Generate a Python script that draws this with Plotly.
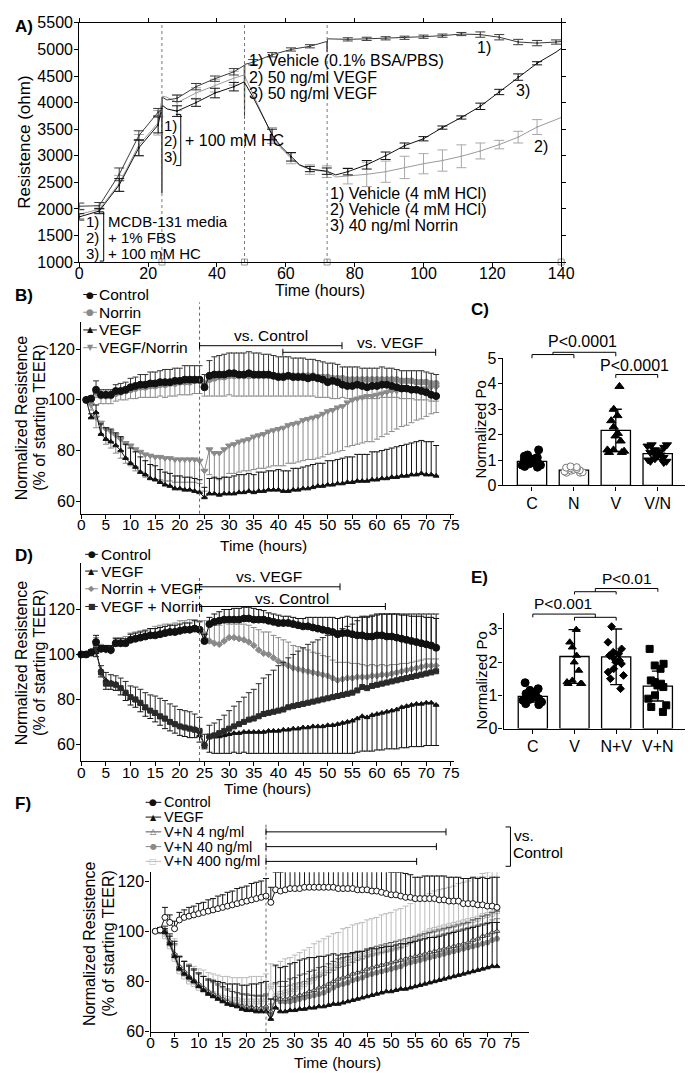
import plotly.graph_objects as go

W, H = 693, 1073
FONT = "Liberation Sans, Arial, Helvetica, sans-serif"
SYMF = "DejaVu Sans, Liberation Sans, sans-serif"

# ---------------- Panel A data ----------------
A_EVENTS = [24, 48, 72, 140]
A1_TIME = [0, 5.8, 11.6, 17.3, 22.9, 23.9, 24.0, 24.1, 25.5, 28.4, 33.9, 39.4, 44.9, 47.9, 48.0, 48.1,
           50.5, 56, 61.5, 67, 71.9, 72.0, 72.1, 78, 83.5, 89, 94.5, 100, 105.5, 111, 116.5, 122,
           127.5, 133, 138.5, 140]
A1_VAL = [2050, 2060, 2650, 3380, 3820, 3870, 2300, 4100, 4050, 4080, 4300, 4450, 4580, 4700, 3700, 4720,
          4760, 4900, 5000, 5060, 5150, 4950, 5200, 5190, 5200, 5210, 5220, 5240, 5260, 5290, 5280, 5230,
          5140, 5120, 5140, 5150]
A1_SD = [60, 60, 120, 90, 70, 0, 0, 0, 0, 60, 60, 50, 60, 0, 0, 0,
         50, 40, 30, 30, 0, 0, 0, 30, 30, 30, 30, 30, 30, 30, 50, 50,
         50, 50, 40, 0]
A23_TIME = [0, 5.8, 11.6, 17.3, 22.9, 24.1, 25.5, 28.4, 33.9, 39.4, 44.9, 47.9, 50.5, 53, 56, 58.5, 61.5,
            64, 67, 71.9, 74.5, 78, 83.5, 89, 94.5, 100, 105.5, 111, 116.5, 122, 127.5, 133, 138.5, 140]
A2_VAL = [1900, 1990, 2480, 3200, 3620, 4120, 4100, 4000, 4180, 4320, 4460, 4520, 4150, 3800, 3380, 3150,
          2950, 2820, 2740, 2700, 2600, 2620, 2650, 2700, 2780, 2850, 2910, 2990, 3090, 3210, 3350, 3540,
          3680, 3720]
A2_SD = [80, 70, 150, 200, 230, 0, 0, 150, 100, 120, 130, 0, 0, 0, 150, 0, 100, 0, 90, 110, 0,
         150, 230, 200, 210, 190, 200, 215, 150, 80, 110, 140, 0, 0]
A3_VAL = [1850, 1960, 2450, 3150, 3580, 3950, 3880, 3840, 4000, 4180, 4300, 4390, 4100, 3780, 3400, 3180,
          2980, 2830, 2750, 2710, 2640, 2700, 2830, 3000, 3190, 3320, 3530, 3720, 3930, 4200, 4480, 4740,
          4950, 5020]
A3_SD = [60, 50, 120, 150, 150, 0, 0, 100, 70, 90, 80, 0, 0, 0, 100, 0, 80, 0, 50, 60, 0,
         60, 80, 70, 50, 40, 30, 30, 60, 50, 60, 30, 0, 0]

# ---------------- Panel B data (hours 1..72) ----------------
HOURS_B = list(range(1, 73))
B_CONTROL = [100, 100.5, 104, 102, 102, 102, 103.5, 103.5, 104, 105, 105.5, 106,
             106, 106.5, 106.5, 107, 107, 107, 107.5, 107.5, 108, 108, 108, 108,
             105, 109.5, 110, 110, 110, 110.5, 110.5, 110, 110, 110.5, 110, 110,
             110, 110, 109.5, 109, 109, 109.5, 109, 109, 109, 108.5, 109, 108.5,
             108, 107, 107.5, 107, 106, 105.5, 105.5, 106, 105.5, 105, 105.5, 105.5,
             106, 106, 105.5, 105, 104.5, 104.5, 104, 104, 103.5, 103, 102, 101.5]
B_CONTROL_UP = [0.5, 1, 3.5, 2, 2, 2, 2.5, 3, 3, 3.5, 3.5, 4,
                4, 4.5, 4.5, 4.5, 5, 5, 5, 5, 5.5, 5.5, 5.5, 5.5,
                5, 6, 7, 7.5, 8, 8, 8, 8.5, 8.5, 8.5, 8.5, 8.5,
                8, 8, 8, 8, 8, 7.5, 7.5, 7.5, 7.5, 7.5, 7, 7,
                7, 7.5, 7, 7, 7, 7.5, 7.5, 7, 7, 7.5, 7, 7,
                7, 6.5, 7, 7, 7, 7, 7.5, 7.5, 8, 8, 8.5, 8.5]
B_NORRIN = [100, 100, 103, 101.5, 101.5, 101.5, 102.5, 103, 103.5, 104, 104.5, 105,
            105, 105.5, 105.5, 106, 106, 106.5, 106.5, 107, 107, 107, 107.5, 107.5,
            106.5, 108, 108.5, 109, 109, 109.5, 109.5, 109.5, 109.5, 109.5, 109.5, 109.5,
            109.5, 109.5, 109.5, 109.5, 109.5, 109.5, 109.5, 109.5, 109.5, 109.5, 109.5, 109,
            109, 109, 108.5, 108.5, 108.5, 108, 108, 108, 108, 108, 108, 108,
            108, 108, 108, 108, 107.5, 107.5, 107.5, 107, 107, 107, 106.5, 106.5]
B_NORRIN_DN = [0.5, 1, 2, 3, 3, 3, 3, 3, 3.5, 3.5, 4, 4,
               4, 4.5, 4.5, 4.5, 5, 5, 5, 5, 5, 5, 5, 5,
               5, 6.5, 7, 7.5, 7.5, 7.5, 8, 8, 8, 8, 8, 8,
               8, 8, 8, 8, 8, 8, 8, 8, 8, 8, 8, 8,
               8, 8, 8, 8, 7.5, 7.5, 7.5, 7.5, 7.5, 7.5, 7.5, 7.5,
               7, 7, 7, 7, 7, 7, 7, 7, 7, 7, 7, 7]
B_VEGF = [100, 93, 95, 86.5, 84.5, 83.5, 82, 80, 77, 75, 73.5, 71.5,
          70.5, 69, 68.5, 67.5, 66.5, 66, 65, 65, 64.5, 64.5, 64, 63.5,
          61.5, 63, 63, 62.5, 63, 63, 63, 63.5, 63.5, 64, 63.5, 64,
          64, 64.5, 64.5, 64.5, 64, 64, 64.5, 64.5, 65, 65, 65.5, 66,
          66, 66.5, 66.5, 67, 67, 67.5, 67.5, 68, 68, 68, 68.5, 68.5,
          69, 69, 69.5, 69.5, 70, 70, 70.5, 70.5, 71, 70.5, 70.5, 70]
B_VEGF_UP = [0, 1.5, 3, 4, 4.5, 5, 5, 5.5, 5.5, 6, 6, 6,
             5.5, 5.5, 5.5, 5, 5, 5, 5, 5, 5, 5, 5, 5,
             4, 6, 6.5, 6.5, 6.5, 6.5, 7, 7, 7, 7, 7, 7.5,
             7.5, 7.5, 7.5, 8, 8, 8, 8.5, 8.5, 8.5, 9, 9, 9,
             9, 9.5, 9.5, 9.5, 10, 10, 10, 10.5, 10.5, 10.5, 11, 11,
             11, 11.5, 11.5, 12, 12, 12.5, 12.5, 13, 13, 13, 13, 12]
B_VN = [100, 98, 93, 91, 88.5, 87.5, 86, 84.5, 83, 82, 80.5, 79.5,
        78.5, 78, 77.5, 77.5, 77, 77, 76.5, 76.5, 76.5, 76.5, 76.5, 76,
        72, 80.5, 79, 79, 80.5, 82, 82.5, 83.5, 84, 84.5, 85.5, 86,
        86.5, 87.5, 88, 88.5, 89, 90, 90.5, 91, 92, 92.5, 93, 93.5,
        94.5, 95.5, 96, 97, 97.5, 99, 100, 100.5, 101, 101.5, 101.5, 102,
        102.5, 103, 103.5, 103.5, 104, 104, 104, 104.5, 104.5, 104.5, 105, 105]
B_VN_DN = [0, 2, 4, 5, 6, 6.5, 7, 7.5, 8, 8, 8.5, 8.5,
           9, 9, 9, 9, 9, 9, 9, 9, 9, 9, 9, 9,
           8, 10, 10, 10.5, 11, 11, 11.5, 12, 12, 12.5, 13, 13,
           13.5, 14, 14, 14.5, 15, 15, 15.5, 15.5, 16, 16, 16.5, 16.5,
           17, 17, 17, 17.5, 17.5, 17.5, 18, 18, 18, 18, 18, 17.5,
           17, 16.5, 16, 15, 14.5, 14, 13, 12.5, 12, 11, 10.5, 10]

# ---------------- Panel C data ----------------
C_CATS = ["C", "N", "V", "V/N"]
C_MEANS = [0.95, 0.6, 2.17, 1.25]
C_SDS = [0.17, 0.08, 0.83, 0.22]
C_PTS_C = [1.4, 1.2, 1.15, 1.1, 1.05, 1.05, 1.0, 0.95, 0.95, 0.9, 0.9, 0.85, 0.8, 0.8, 0.75, 0.72]
C_PTS_N = [0.75, 0.72, 0.7, 0.68, 0.65, 0.62, 0.6, 0.58, 0.55, 0.52, 0.5, 0.5]
C_PTS_V = [3.9, 3.0, 2.75, 2.55, 2.3, 2.05, 1.95, 1.75, 1.4, 1.4, 1.35, 1.3, 1.3]
C_PTS_VN = [1.6, 1.6, 1.55, 1.5, 1.4, 1.35, 1.3, 1.25, 1.2, 1.15, 1.1, 1.05, 1.0, 0.95, 0.95, 0.9]

# ---------------- Panel D data (hours 0..72) ----------------
HOURS_D = list(range(0, 73))
D_CONTROL = [100, 100, 101, 105.5, 102.5, 102.5, 102, 105, 105, 105, 106.5, 107, 107.5,
             108, 108.5, 108.5, 109, 109.5, 110, 110, 110.5, 111, 111, 111.5, 111,
             106, 113.5, 114.5, 115, 115.5, 115.5, 115.5, 115.5, 116, 116, 115.5, 115.5,
             115.5, 115, 114.5, 114, 114, 114, 113.5, 113, 112.5, 112.5, 112, 111.5,
             111, 110.5, 110, 109, 109.5, 109.5, 109, 108.5, 108.5, 108, 108, 108.5,
             108.5, 108, 108, 107.5, 107, 106.5, 106, 105.5, 105, 104.5, 104, 103]
D_CONTROL_UP = [0, 0.5, 1, 3, 1.5, 1.5, 2, 2, 2, 2, 2.5, 2.5, 2.5,
                2.5, 3, 3, 3, 3, 3, 3, 3, 3, 3, 3.5, 3.5,
                3, 3, 3.5, 4, 4.5, 4.5, 5, 5, 5, 5, 5, 4.5,
                4, 3.5, 3.5, 3.5, 3, 3, 3, 3, 3.5, 4, 4.5, 5,
                5.5, 6, 6.5, 7, 7, 7.5, 7.5, 8, 8.5, 9, 9, 9.5,
                9.5, 10, 10, 10.5, 10.5, 11, 11, 11.5, 12, 12, 12.5, 13]
D_VEGF = [100, 100, 100.5, 101, 93, 88.5, 87.5, 87, 85, 82.5, 80.5, 79.5, 78,
          76, 75, 73.5, 72, 71, 70, 69, 68, 67.5, 67, 67, 64,
          60, 63.5, 63.5, 63.5, 64, 64.5, 65, 65, 65.5, 65.5, 65.5, 65.5,
          65.5, 66, 66, 66, 66.5, 66.5, 67, 67, 67.5, 67.5, 68, 68,
          68, 68.5, 68.5, 69, 69.5, 70, 70.5, 71.5, 72.5, 72, 73, 73.5,
          74, 74.5, 75, 75.5, 76.5, 77, 77.5, 78, 78, 78.5, 78.5, 77.5]
D_VEGF_DN = [0, 0.5, 1, 2, 3, 4, 3, 3, 3, 3, 3, 3, 3.5,
             3.5, 3.5, 3.5, 3.5, 4, 4, 4, 4, 4, 4, 4, 3,
             2, 7, 7.5, 7.5, 8, 8.5, 8.5, 9, 9, 9.5, 9.5, 9.5,
             9.5, 10, 10, 10, 10.5, 10.5, 11, 11, 11.5, 11.5, 12, 12,
             12, 12.5, 12.5, 13, 13.5, 14, 14.5, 15, 15.5, 15, 16, 16,
             16.5, 16.5, 17, 17.5, 18, 18.5, 18.5, 19, 19, 19, 19, 18]
D_VEGF_NORRIN = [100, 100, 100.5, 102, 92, 87, 87, 86.5, 85, 83, 81, 80, 78.5,
                 76.5, 75, 74, 72.5, 71.5, 70, 69, 68, 67.5, 67, 66.5, 66,
                 59.5, 63.5, 64, 65, 66, 67, 68, 69, 70, 71, 71.5, 72.5,
                 73.5, 74, 74.5, 75, 75.5, 76.5, 77, 77.5, 78, 78.5, 79, 79.5,
                 80, 80.5, 81, 81.5, 82, 82.5, 83, 84, 85.5, 85, 86, 86.5,
                 87, 87.5, 88, 88.5, 89, 89.5, 90, 90.5, 91, 91.5, 92, 92.5]
D_VEGF_NORRIN_UP = [0, 0.5, 1, 2, 3, 5, 4, 4, 4.5, 5, 5, 5.5, 6,
                    6.5, 7, 7.5, 8, 8, 8, 8, 7.5, 7.5, 7.5, 7, 6,
                    5, 5, 5.5, 6, 7, 8, 9, 10, 11, 12, 13, 14.5,
                    16, 17, 18.5, 20, 21, 22, 23, 24, 25, 26, 26.5, 27,
                    27.5, 28, 28.5, 29, 29.5, 30, 30.5, 31, 31, 31.5, 31.5, 31,
                    31, 30.5, 30, 29.5, 29, 28.5, 28, 27.5, 27, 26.5, 26, 25.5]
D_NORRIN_VEGF = [100, 100, 101, 104.5, 102.5, 102, 101.5, 105, 105, 105.5, 106.5, 107, 107.5,
                 108, 108.5, 109, 109.5, 110, 110, 110.5, 111, 111, 111.5, 111.5, 111,
                 109, 106, 105, 104.5, 106, 107.5, 107.5, 107, 106.5, 105.5, 104, 102,
                 100.5, 100, 98.5, 97, 96, 95, 94, 93.5, 93, 92.5, 92, 91.5,
                 91, 90.5, 89.5, 88.5, 89, 89.5, 89.5, 90, 90, 90, 90.5, 90.5,
                 91, 91, 91.5, 92, 92.5, 93, 93.5, 94, 94.5, 95, 95, 95]
D_NORRIN_VEGF_UP = [0, 0.5, 1, 3, 2, 2, 2, 2.5, 2.5, 2.5, 3, 3, 3,
                    3, 3, 3.5, 3.5, 3.5, 3.5, 3.5, 4, 4, 4, 4, 4,
                    6, 7, 8, 8.5, 8, 6, 6, 6.5, 7, 7.5, 8, 9,
                    9.5, 10, 10, 10.5, 10.5, 10.5, 10, 10, 9.5, 9.5, 9, 9,
                    8.5, 8.5, 8, 8, 7.5, 7, 6.5, 6, 5.5, 5, 5, 4.5,
                    4.5, 4, 4, 3.5, 3.5, 3, 3, 3, 3, 3, 3, 3]

# ---------------- Panel E data ----------------
E_CATS = ["C", "V", "N+V", "V+N"]
E_MEANS = [0.97, 2.17, 2.16, 1.28]
E_SDS = [0.17, 0.81, 0.84, 0.45]
E_PTS_C = [1.38, 1.2, 1.15, 1.1, 1.05, 1.0, 0.98, 0.95, 0.9, 0.88, 0.85, 0.8, 0.75, 0.72]
E_PTS_V = [2.98, 2.6, 2.45, 2.2, 2.0, 1.75, 1.45, 1.4, 1.35, 1.35, 1.35]
E_PTS_NV = [3.07, 2.6, 2.4, 2.3, 2.25, 2.2, 2.15, 2.05, 2.0, 1.95, 1.8, 1.7, 1.6, 1.5, 1.2]
E_PTS_VN = [2.4, 1.95, 1.9, 1.8, 1.45, 1.4, 1.35, 1.3, 1.25, 1.0, 0.9, 0.7, 0.65, 0.5]

# ---------------- Panel F data (hours 1..72) ----------------
HOURS_F = list(range(1, 73))
F_CONTROL = [100, 100.5, 105.5, 103.5, 101, 104.5, 105.5, 106, 106.5, 107, 107.5, 108,
             108.5, 109, 109.5, 110, 110.5, 111, 111.5, 112, 112.5, 113, 113.5, 114,
             111.5, 116.5, 116, 116.5, 117, 117, 117, 117.5, 117.5, 117.5, 117.5, 117.5,
             117.5, 117.5, 117, 117, 117, 117, 116.5, 116.5, 116.5, 116, 116, 115.5,
             115, 114.5, 114.5, 114, 113.5, 113.5, 113, 113, 113, 113, 113, 112.5,
             112.5, 112, 112, 112, 111, 111, 111, 110.5, 110.5, 110, 110, 109.5]
F_CONTROL_UP = [0.5, 1, 4, 3, 3, 3, 3, 3.5, 3.5, 4, 4, 4.5,
                4.5, 5, 5, 5.5, 5.5, 6, 6, 6, 6.5, 6.5, 6.5, 7,
                6, 7, 7.5, 8, 8, 8.5, 8.5, 8.5, 8.5, 9, 9, 9,
                8.5, 8.5, 8.5, 8.5, 8.5, 8.5, 8.5, 8.5, 8.5, 8, 8, 8.5,
                9, 9, 9, 9.5, 9.5, 9, 8.5, 8.5, 9, 9, 9, 9.5,
                9.5, 9.5, 9.5, 9.5, 10, 10, 10.5, 10.5, 11, 11, 11.5, 12]
F_VEGF = [100, 100.5, 99.5, 95, 90, 85, 83, 81.5, 80, 78, 76.5, 75,
          74, 73, 72, 71, 70.5, 70, 69, 68.5, 68.5, 68, 68, 68,
          65, 69.5, 68, 68, 68.5, 68.5, 69, 69, 69.5, 69.5, 70, 70,
          70.5, 71, 71, 71.5, 72, 72.5, 73, 73.5, 74, 74.5, 75, 75.5,
          76, 76, 76.5, 77, 77, 77.5, 78, 78.5, 79, 79.5, 80, 80.5,
          81, 81.5, 82, 82.5, 83, 83.5, 84, 84.5, 85, 85.5, 86, 86]
F_VEGF_UP = [0.5, 1, 1.5, 3, 6, 5, 5, 5, 5, 5, 5.5, 6,
             6.5, 7, 7.5, 8, 8.5, 9, 9.5, 10, 10.5, 11, 11.5, 12,
             8, 17, 17.5, 18, 18.5, 19, 19.5, 20, 20, 20, 20, 20,
             20, 20, 19.5, 19.5, 19, 19, 19, 18.5, 18.5, 18.5, 18, 18,
             18, 18, 18, 18, 18, 18, 18, 18, 18, 18, 17.5, 17.5,
             17.5, 17.5, 17.5, 17.5, 17.5, 17.5, 17.5, 17.5, 17.5, 17.5, 17.5, 17.5]
F_VN4 = [100, 100, 100, 96, 91, 86, 84, 82, 80.5, 79, 77.5, 76,
         75, 74, 73, 72, 71, 70.5, 70, 70, 69.5, 69.5, 69.5, 70,
         68, 73.5, 73, 73, 73.5, 74, 74.5, 75, 76, 76.5, 77.5, 78,
         79, 80, 81, 81.5, 82, 83, 83.5, 84, 85, 85.5, 86, 86.5,
         87, 87.5, 88, 88.5, 89, 89.5, 90, 90.5, 91, 91.5, 92, 92.5,
         93, 93.5, 94, 94.5, 95, 95.5, 96.5, 97, 98, 98.5, 99.5, 100]
F_VN4_UP = [0.5, 1, 2, 3, 4, 4, 4, 4, 4, 4.5, 4.5, 4.5,
            5, 5, 5, 5, 5, 5, 5, 5, 5, 5, 5, 5,
            5, 6, 7, 7, 7.5, 7.5, 8, 8, 8, 8, 8, 8,
            8, 8, 8, 8, 8, 8, 8, 8, 8, 8, 8, 8,
            8, 8, 8, 8, 8, 8, 8, 8, 8, 8, 8, 8,
            8, 8, 8, 8, 8, 8, 8, 8, 8, 8, 8, 8]
F_VN40 = [100, 100, 100, 95.5, 90.5, 85.5, 83.5, 81.5, 80, 78.5, 77, 75.5,
          74.5, 73.5, 72.5, 71.5, 71, 70.5, 70, 69.5, 69.5, 69, 69, 69.5,
          67, 73, 72, 72, 72, 72.5, 73, 73.5, 74, 74.5, 75, 75.5,
          76.5, 77.5, 78.5, 79, 79.5, 80.5, 81, 81.5, 82.5, 83, 83.5, 84,
          84.5, 85, 85.5, 86, 87, 87.5, 88, 88.5, 89, 89.5, 90, 90.5,
          91, 91.5, 92, 92.5, 93, 93.5, 94, 94.5, 95, 95.5, 96.5, 97]
F_VN40_UP = [0.5, 1, 2, 3, 4, 4, 4.5, 4.5, 4.5, 5, 5, 5,
             5, 5, 5, 5, 5, 5, 5, 5, 5, 5, 5, 5,
             4, 6, 6, 6, 6.5, 6.5, 6.5, 6.5, 7, 7, 7, 7,
             7, 7, 7, 7, 7, 7, 7.5, 7.5, 7.5, 7.5, 7.5, 7.5,
             7.5, 7.5, 7.5, 7.5, 8, 8, 8, 8, 8, 8, 8, 8,
             8, 8, 8, 8, 8, 8, 8, 8, 8, 8, 8, 8]
F_VN400 = [100, 100, 98, 94, 89, 84, 82, 80, 79, 77.5, 76.5, 75.5,
           75, 74, 73.5, 73, 72.5, 72.5, 72, 72, 72, 72, 72, 73,
           78, 74, 75, 75.5, 76, 77, 78, 79, 80, 81.5, 82.5, 83.5,
           84.5, 85.5, 86.5, 88, 88.5, 89, 89.5, 90, 90.5, 91, 91.5, 92,
           92.5, 93, 93.5, 94, 95, 96, 97, 98, 99, 100, 100.5, 101,
           101.5, 102, 102.5, 103, 103.5, 104, 104.5, 105, 106, 106.5, 107, 108]
F_VN400_UP = [0.5, 1, 3, 5, 8, 6, 6, 7, 7, 7.5, 8, 8,
              8, 8.5, 8.5, 9, 9, 9, 9.5, 9.5, 10, 10, 10, 10,
              9, 12, 13, 13.5, 13.5, 13.5, 13.5, 13.5, 13.5, 13.5, 13.5, 13.5,
              13.5, 13.5, 13, 13, 13, 13.5, 13.5, 13.5, 14, 14, 14, 14.5,
              14.5, 14.5, 15, 15, 15, 15, 15, 15, 15, 15, 15.5, 15.5,
              15.5, 15.5, 15.5, 16, 16, 16, 16.5, 16.5, 17, 17, 17.5, 18]


def px(x):
    return x / W


def py(y):
    return 1 - y / H


BLACK = "#111111"
DARK = "#444444"
GRAY = "#8a8a8a"
LIGHT = "#bcbcbc"

fig = go.Figure()


def ts(xa, ya, x, y, color, symbol, size, up=None, down=None, ecolor=None, mfill=None, ewidth=3):
    err = None
    if up is not None or down is not None:
        err = dict(type="data", symmetric=False,
                   array=up if up is not None else [0] * len(y),
                   arrayminus=down if down is not None else [0] * len(y),
                   color=ecolor or color, thickness=1, width=ewidth)
    return go.Scatter(x=x, y=y, mode="lines+markers", xaxis=xa, yaxis=ya,
                      line=dict(color=color, width=1),
                      marker=dict(symbol=symbol, size=size, color=mfill or color,
                                  line=dict(color=color, width=1)),
                      error_y=err, showlegend=False, hoverinfo="skip", cliponaxis=False)


# ---------- Panel A traces ----------
def a_line(t, v, color):
    fig.add_trace(go.Scatter(x=t, y=v, mode="lines", line=dict(color=color, width=1),
                             xaxis="x", yaxis="y", showlegend=False, hoverinfo="skip"))


def a_err(t, v, sd, color):
    tt = [a for a, s in zip(t, sd) if s > 0]
    vv = [b for b, s in zip(v, sd) if s > 0]
    ss = [s for s in sd if s > 0]
    fig.add_trace(go.Scatter(x=tt, y=vv, mode="markers", marker=dict(size=2, color=color),
                             error_y=dict(type="data", array=ss, color=color, thickness=1, width=5),
                             xaxis="x", yaxis="y", showlegend=False, hoverinfo="skip"))


a_line(A23_TIME, A2_VAL, "#9a9a9a")
a_err(A23_TIME, A2_VAL, A2_SD, "#a8a8a8")
a_line(A1_TIME, A1_VAL, "#3a3a3a")
a_err(A1_TIME, A1_VAL, A1_SD, "#3a3a3a")
a_line(A23_TIME, A3_VAL, BLACK)
a_err(A23_TIME, A3_VAL, A3_SD, BLACK)
fig.add_trace(go.Scatter(x=A_EVENTS, y=[1000] * len(A_EVENTS), mode="markers",
                         marker=dict(symbol="square-open", size=6, color="#999999"),
                         xaxis="x", yaxis="y", showlegend=False, hoverinfo="skip", cliponaxis=False))

# ---------- Panel B traces ----------
fig.add_trace(ts("x2", "y2", HOURS_B, B_VN, GRAY, "triangle-down", 6, down=B_VN_DN))
fig.add_trace(ts("x2", "y2", HOURS_B, B_NORRIN, GRAY, "circle", 6, down=B_NORRIN_DN))
fig.add_trace(ts("x2", "y2", HOURS_B, B_VEGF, BLACK, "triangle-up", 5, up=B_VEGF_UP))
fig.add_trace(ts("x2", "y2", HOURS_B, B_CONTROL, BLACK, "circle", 7, up=B_CONTROL_UP, ecolor="#333333"))

# ---------- Panel D traces ----------
fig.add_trace(ts("x4", "y4", HOURS_D, D_NORRIN_VEGF, GRAY, "diamond", 5, up=D_NORRIN_VEGF_UP))
fig.add_trace(ts("x4", "y4", HOURS_D, D_VEGF, BLACK, "triangle-up", 5, down=D_VEGF_DN))
fig.add_trace(ts("x4", "y4", HOURS_D, D_VEGF_NORRIN, "#2a2a2a", "square", 5, up=D_VEGF_NORRIN_UP))
fig.add_trace(ts("x4", "y4", HOURS_D, D_CONTROL, BLACK, "circle", 7, up=D_CONTROL_UP))

# ---------- Panel F traces ----------
fig.add_trace(ts("x6", "y6", HOURS_F, F_VN400, LIGHT, "square-open", 5, up=F_VN400_UP))
fig.add_trace(ts("x6", "y6", HOURS_F, F_VN40, GRAY, "circle", 5, up=F_VN40_UP))
fig.add_trace(ts("x6", "y6", HOURS_F, F_VN4, "#555555", "triangle-up", 5, up=F_VN4_UP, mfill="white"))
fig.add_trace(ts("x6", "y6", HOURS_F, F_VEGF, BLACK, "triangle-up", 5, up=F_VEGF_UP))
fig.add_trace(ts("x6", "y6", HOURS_F, F_CONTROL, BLACK, "circle", 6, up=F_CONTROL_UP, mfill="white"))


# ---------- Bar panels C & E ----------
def bar_panel(xa, ya, cats, means, sds, pts, styles):
    fig.add_trace(go.Bar(x=cats, y=means, width=0.7, xaxis=xa, yaxis=ya,
                         marker=dict(color="white", line=dict(color="black", width=1.3)),
                         error_y=dict(type="data", array=sds, color="black", thickness=1.3, width=6),
                         showlegend=False, hoverinfo="skip"))
    for cat, vals, (sym, col, fill, size) in zip(cats, pts, styles):
        fig.add_trace(go.Box(x=[cat] * len(vals), y=vals, boxpoints="all", jitter=0.9, pointpos=0,
                             width=0.62, fillcolor="rgba(0,0,0,0)",
                             line=dict(color="rgba(0,0,0,0)", width=0),
                             marker=dict(symbol=sym, size=size, color=fill, line=dict(color=col, width=1)),
                             xaxis=xa, yaxis=ya, showlegend=False, hoverinfo="skip"))


bar_panel("x3", "y3", C_CATS, C_MEANS, C_SDS, [C_PTS_C, C_PTS_N, C_PTS_V, C_PTS_VN],
          [("circle", "black", "black", 8), ("circle", "#777777", "white", 7),
           ("triangle-up", "black", "black", 8), ("triangle-down", "black", "black", 8)])
bar_panel("x5", "y5", E_CATS, E_MEANS, E_SDS, [E_PTS_C, E_PTS_V, E_PTS_NV, E_PTS_VN],
          [("circle", "black", "black", 8), ("triangle-up", "black", "black", 7),
           ("diamond", "black", "black", 6), ("square", "black", "black", 7)])


# ---------- Axes ----------
def ax(domain, rng, anchor, standoff=-2, fsize=16, **kw):
    d = dict(domain=domain, range=rng, anchor=anchor, showline=True, linecolor="black", linewidth=1.3,
             ticks="outside", ticklen=4, tickwidth=1.3, tickcolor="black", showgrid=False,
             zeroline=False, tickfont=dict(family=FONT, size=fsize, color="black"), fixedrange=True,
             ticklabelstandoff=standoff)
    d.update(kw)
    return d


layout = dict(
    width=W, height=H, autosize=False, margin=dict(l=0, r=0, t=0, b=0),
    paper_bgcolor="white", plot_bgcolor="white", showlegend=False,
    font=dict(family=FONT, color="black"),
    boxmode="overlay",
    xaxis=ax([px(69), px(563)], [0, 140], "y", -7, dtick=20, mirror="ticks"),
    yaxis=ax([py(250), py(7)], [1000, 5500], "x", dtick=500, mirror="ticks"),
    xaxis2=ax([px(71), px(453)], [0, 75.6], "y2", -7, 15.5, dtick=5),
    yaxis2=ax([py(505.7), py(311)], [55.1, 130.7], "x2", tickvals=[60, 80, 100, 120]),
    xaxis3=ax([px(503), px(692)], [-0.7, 3.7], "y3", -1, type="category"),
    yaxis3=ax([py(477), py(348)], [0, 5], "x3", dtick=1),
    xaxis4=ax([px(71), px(453)], [0, 75.6], "y4", -7, 15.5, dtick=5),
    yaxis4=ax([py(757), py(556)], [52.6, 140.6], "x4", tickvals=[60, 80, 100, 120]),
    xaxis5=ax([px(504), px(692)], [-0.7, 3.7], "y5", -1, type="category"),
    yaxis5=ax([py(724), py(607)], [0, 3.47], "x5", dtick=1),
    xaxis6=ax([px(142), px(530)], [0, 78.65], "y6", -7, 15.5, dtick=5),
    yaxis6=ax([py(1032), py(870)], [60, 123.5], "x6", tickvals=[60, 80, 100, 120]),
)
fig.update_layout(**layout)

shapes = []
ann = []


def seg(x0, y0, x1, y1, xref="paper", yref="paper", color="black", width=1, dash=None):
    ln = dict(color=color, width=width)
    if dash:
        ln["dash"] = dash
    shapes.append(dict(type="line", x0=x0, y0=y0, x1=x1, y1=y1, xref=xref, yref=yref, line=ln,
                       layer="above"))


def text(x, y, s, size=15, xanchor="center", yanchor="middle", angle=0, family=FONT, color="black"):
    ann.append(dict(x=px(x), y=py(y), xref="paper", yref="paper", text=s, showarrow=False,
                    xanchor=xanchor, yanchor=yanchor, textangle=angle, borderpad=0,
                    font=dict(family=family, size=size, color=color)))


def bracket_px(x0, x1, ytop, ybot):
    # "]" shaped bracket in pixel coords
    seg(px(x0), py(ytop), px(x1), py(ytop))
    seg(px(x1), py(ytop), px(x1), py(ybot))
    seg(px(x0), py(ybot), px(x1), py(ybot))


# Panel A decorations
for t in A_EVENTS[:3]:
    seg(t, 1000, t, 5500, xref="x", yref="y", color="#777777", width=1, dash="dot")
text(2, 11, "<b>A)</b>", 17, xanchor="left")
text(316, 279, "Time (hours)", 16)
text(13, 128, "Resistence (ohm)", 17, angle=-90)
for i, s in enumerate(["1) Vehicle (0.1% BSA/PBS)", "2) 50 ng/ml VEGF", "3) 50 ng/ml VEGF"]):
    text(242, 45 + i * 17, s, 16, xanchor="left")
for i, s in enumerate(["1)", "2)", "3)"]):
    text(155, 111 + i * 16, s, 15, xanchor="left")
bracket_px(168, 173, 100, 152)
text(176, 127, "+ 100 mM HC", 16, xanchor="left")
for i, (a, b) in enumerate([("1)", "MCDB-131 media"), ("2)", "+ 1% FBS"), ("3)", "+ 100 mM HC")]):
    text(75, 209 + i * 16, a, 15, xanchor="left")
    text(97, 209 + i * 16, b, 15, xanchor="left")
bracket_px(90, 94, 199, 249)
for i, s in enumerate(["1) Vehicle (4 mM HCl)", "2) Vehicle (4 mM HCl)", "3) 40 ng/ml Norrin"]):
    text(325, 180 + i * 16.5, s, 16, xanchor="left")
text(484, 32, "1)", 16)
text(524, 76, "3)", 16)
text(542, 133, "2)", 16)


def legend_entry(y, x0, x1, xt, glyph, gcolor, gsize, label, lcolor, lsize=15.5):
    seg(px(x0), py(y), px(x1), py(y), color=lcolor, width=1)
    text((x0 + x1) / 2, y, glyph, gsize, family=SYMF, color=gcolor)
    text(xt, y, label, lsize, xanchor="left")


def vs_line(xa, t0, t1, ypx, tick=3.5):
    seg(t0, py(ypx), t1, py(ypx), xref=xa)
    seg(t0, py(ypx - tick), t0, py(ypx + tick), xref=xa)
    seg(t1, py(ypx - tick), t1, py(ypx + tick), xref=xa)


# Panel B decorations
text(2, 284, "<b>B)</b>", 17, xanchor="left")
legend_entry(283, 73, 87, 88, "●", BLACK, 9, "Control", BLACK)
legend_entry(301, 73, 87, 88, "●", GRAY, 9, "Norrin", GRAY)
legend_entry(319, 73, 87, 88, "▲", BLACK, 8, "VEGF", BLACK)
legend_entry(337, 73, 87, 88, "▼", GRAY, 8, "VEGF/Norrin", GRAY)
seg(24, py(505.7), 24, py(291), xref="x2", color="#666666", dash="dot")
vs_line("x2", 24, 52.9, 335)
vs_line("x2", 40.9, 71.9, 341.7)
text(266, 325, "vs. Control", 15.5)
text(387, 332, "vs. VEGF", 15.5)
text(258, 538, "Time (hours)", 15.5)
text(10, 408, "Normalized Resistence", 16, angle=-90)
text(28, 408, "(% of starting TEER)", 16, angle=-90)

# Panel C decorations
text(470, 298, "<b>C)</b>", 17, xanchor="left")
text(480, 420, "Normalized Po", 15, angle=-90)
seg(0, py(347.7), 0, py(344), xref="x3")
seg(0, py(344), 1, py(344), xref="x3")
seg(1, py(344), 1, py(347.7), xref="x3")
seg(0.5, py(344), 0.5, py(341.7), xref="x3")
seg(0.5, py(341.7), 2, py(341.7), xref="x3")
seg(2, py(341.7), 2, py(345.7), xref="x3")
text(585, 331, "P&lt;0.0001", 16)
seg(2, py(367.7), 2, py(364.3), xref="x3")
seg(2, py(364.3), 3, py(364.3), xref="x3")
seg(3, py(364.3), 3, py(367.7), xref="x3")
text(638, 355, "P&lt;0.0001", 16)

# Panel D decorations
text(2, 548, "<b>D)</b>", 17, xanchor="left")
legend_entry(547, 75, 88, 90, "●", BLACK, 9, "Control", BLACK)
legend_entry(564, 75, 88, 90, "▲", BLACK, 8, "VEGF", BLACK)
legend_entry(582, 75, 88, 90, "◆", GRAY, 8, "Norrin + VEGF", GRAY)
legend_entry(600, 75, 88, 90, "■", "#2a2a2a", 8, "VEGF + Norrin", "#2a2a2a")
seg(24, py(757), 24, py(570), xref="x4", color="#666666", dash="dot")
vs_line("x4", 24, 52.5, 580)
vs_line("x4", 24, 61.7, 600)
text(263, 570, "vs. VEGF", 15.5)
text(287, 592, "vs. Control", 15.5)
text(262, 785, "Time (hours)", 15.5)
text(10, 657, "Normalized Resistence", 16, angle=-90)
text(28, 657, "(% of starting TEER)", 16, angle=-90)

# Panel E decorations
text(470, 571, "<b>E)</b>", 17, xanchor="left")
text(481, 675, "Normalized Po", 15, angle=-90)
seg(0, py(611), 0, py(607.7), xref="x5")
seg(0, py(607.7), 1.5, py(607.7), xref="x5")
seg(1.5, py(607.7), 1.5, py(611), xref="x5")
seg(1, py(614.3), 1, py(611), xref="x5")
seg(1, py(611), 2, py(611), xref="x5")
seg(2, py(611), 2, py(614.3), xref="x5")
text(565, 597, "P&lt;0.001", 15.5)
seg(1, py(587.7), 1, py(585), xref="x5")
seg(1, py(585), 2, py(585), xref="x5")
seg(2, py(585), 2, py(587.7), xref="x5")
seg(1.5, py(585), 1.5, py(581.7), xref="x5")
seg(1.5, py(581.7), 3, py(581.7), xref="x5")
seg(3, py(581.7), 3, py(585), xref="x5")
text(630, 572, "P&lt;0.01", 15.5)

# Panel F decorations
text(2, 800, "<b>F)</b>", 17, xanchor="left")
legend_entry(799, 137, 153, 155, "●", BLACK, 9, "Control", BLACK, 14.5)
legend_entry(814, 137, 153, 155, "▲", BLACK, 8, "VEGF", BLACK, 14.5)
legend_entry(829, 137, 153, 155, "△", "#555555", 8, "V+N 4 ng/ml", "#555555", 14.5)
legend_entry(844, 137, 153, 155, "●", GRAY, 8, "V+N 40 ng/ml", GRAY, 14.5)
legend_entry(859, 137, 153, 155, "□", LIGHT, 8, "V+N 400 ng/ml", LIGHT, 14.5)
seg(24, py(1032), 24, py(820), xref="x6", color="#666666", dash="dot")
vs_line("x6", 24, 61.4, 829)
vs_line("x6", 24, 59.4, 844)
vs_line("x6", 24, 55.3, 859)
bracket_px(506, 511, 824, 864)
text(514, 833, "vs.", 15.5, xanchor="left")
text(513, 850, "Control", 15.5, xanchor="left")
text(334, 1063, "Time (hours)", 15.5)
text(79, 943, "Normalized Resistence", 16, angle=-90)
text(98, 943, "(% of starting TEER)", 16, angle=-90)

fig.update_layout(shapes=shapes, annotations=ann)
fig.write_html("out.html")
